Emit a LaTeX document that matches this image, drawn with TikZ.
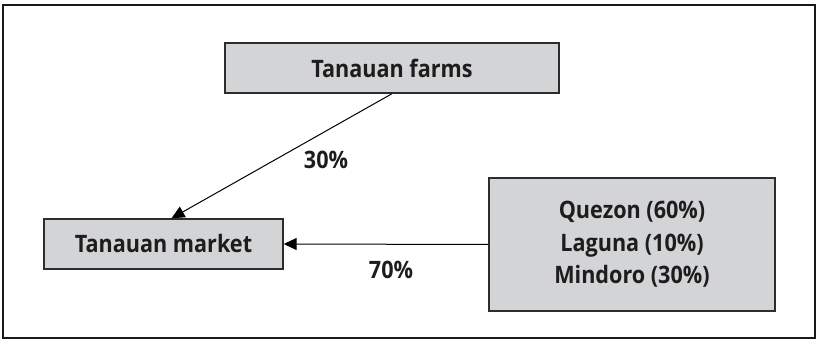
\documentclass[tikz,border=0pt]{standalone}
\usepackage{fontspec}
\setmainfont{Open Sans}[FakeStretch=0.9]
\usetikzlibrary{arrows.meta}
\definecolor{boxfill}{RGB}{211,212,214}
\definecolor{boxline}{RGB}{45,45,45}
\definecolor{txt}{RGB}{30,28,29}
\begin{document}
\begin{tikzpicture}[x=1pt,y=-1pt,
  every node/.style={font=\fontsize{24}{32.5}\selectfont\bfseries, text=txt},
  flowbox/.style={draw=boxline, line width=1.4pt, fill=boxfill, inner sep=0pt, align=center},
  flow/.style={draw=black, line width=1pt, -{Triangle[length=13pt,width=12pt]}},
  share/.style={inner sep=0pt}]
  \useasboundingbox (0,0) rectangle (817,339);
  % outer frame
  \draw[line width=1.6pt, draw=black!90] (3,5) rectangle (815,338);
  % boxes
  \node[flowbox, minimum width=334pt, minimum height=50pt] (farms) at (392,68) {Tanauan farms};
  \node[flowbox, minimum width=239pt, minimum height=50pt] (market) at (163.5,244) {Tanauan market};
  \node[flowbox, minimum width=286pt, minimum height=133pt] (sources) at (632,244.5)
    {Quezon (60\%)\\Laguna (10\%)\\Mindoro (30\%)};
  % flows into the market
  \coordinate (mktin) at ([xshift=8pt]market.north);
  \draw[flow] (farms.south) -- (mktin);
  \draw[flow] (sources.west) -- (market.east);
  % shares
  \node[share] (s30) at (326,160) {30\%};
  \node[share] (s70) at (391,270) {70\%};
\end{tikzpicture}
\end{document}
